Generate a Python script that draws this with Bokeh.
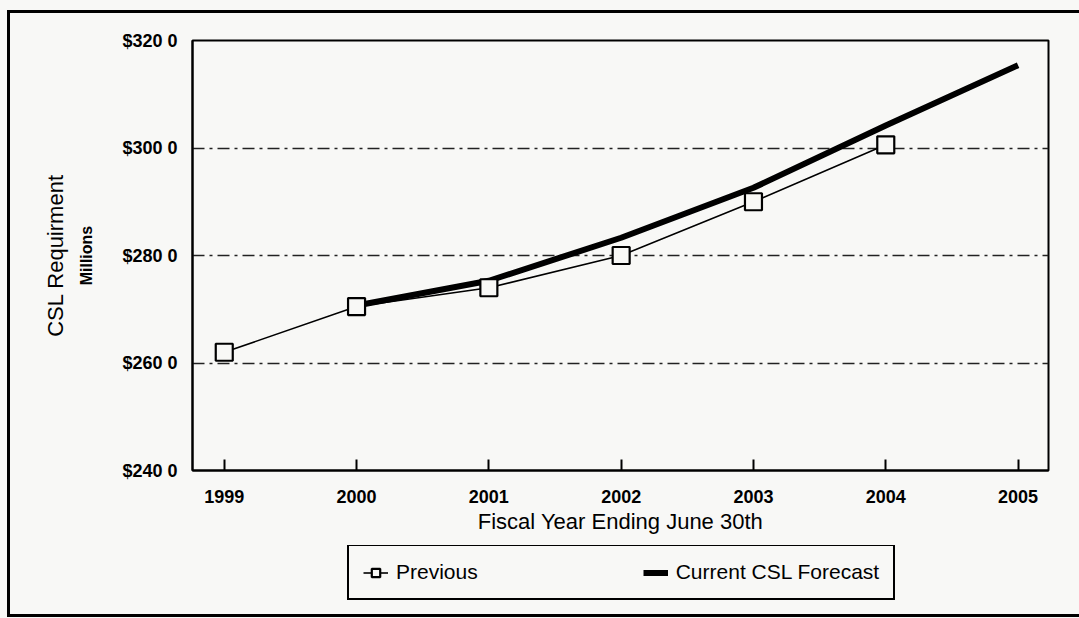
from bokeh.plotting import figure
from bokeh.layouts import column
from bokeh.models import (ColumnDataSource, Legend, LegendItem, FixedTicker,
                          Range1d, LinearAxis, InlineStyleSheet)
from bokeh.embed import file_html
from bokeh.resources import INLINE

# ---- data ----
years = [1999, 2000, 2001, 2002, 2003, 2004, 2005]
year_labels = ["1999", "2000", "2001", "2002", "2003", "2004", "2005"]
previous_years = [1999, 2000, 2001, 2002, 2003, 2004]
previous = [262.0, 270.5, 274.0, 280.0, 290.0, 300.6]
current_years = [2000, 2001, 2002, 2003, 2004, 2005]
current = [270.7, 275.3, 283.3, 292.6, 304.2, 315.4]
y_ticks = [240, 260, 280, 300, 320]
y_tick_labels = ["$240 0", "$260 0", "$280 0", "$300 0", "$320 0"]
series_names = ["Previous", "Current CSL Forecast"]

FONT = "Liberation Sans"
BG = "#f8f8f6"

p = figure(width=1079, height=545, output_backend="svg", toolbar_location=None,
           x_range=Range1d(1998.76, 2005.23), y_range=Range1d(240, 320))
p.min_border_left = 192
p.min_border_right = 31
p.min_border_top = 40
p.min_border_bottom = 75
p.background_fill_color = BG
p.border_fill_color = BG
p.outline_line_color = "black"
p.outline_line_width = 2

# x axis
p.xaxis.ticker = FixedTicker(ticks=years)
p.xaxis.major_label_overrides = {y: l for y, l in zip(years, year_labels)}
p.xaxis.major_tick_in = 11
p.xaxis.major_tick_out = 0
p.xaxis.minor_tick_line_color = None
p.xaxis.major_tick_line_width = 2
p.xaxis.axis_line_width = 2
p.xaxis.major_label_standoff = 19
p.xaxis.major_label_text_font = FONT
p.xaxis.major_label_text_font_size = "18px"
p.xaxis.major_label_text_font_style = "bold"
p.xaxis.major_label_text_color = "black"
p.xaxis.axis_label = "Fiscal Year Ending June 30th"
p.xaxis.axis_label_text_font = FONT
p.xaxis.axis_label_text_font_size = "22px"
p.xaxis.axis_label_text_font_style = "normal"
p.xaxis.axis_label_text_color = "black"
p.xaxis.axis_label_standoff = 3

# y axis (its label is the units line "Millions")
p.yaxis.ticker = FixedTicker(ticks=y_ticks)
p.yaxis.major_label_overrides = {t: l for t, l in zip(y_ticks, y_tick_labels)}
p.yaxis.major_tick_in = 0
p.yaxis.major_tick_out = 0
p.yaxis.minor_tick_line_color = None
p.yaxis.axis_line_width = 2
p.yaxis.major_label_standoff = 15
p.yaxis.major_label_text_font = FONT
p.yaxis.major_label_text_font_size = "18px"
p.yaxis.major_label_text_font_style = "bold"
p.yaxis.major_label_text_color = "black"
p.yaxis.axis_label = "Millions"
p.yaxis.axis_label_text_font = FONT
p.yaxis.axis_label_text_font_size = "16px"
p.yaxis.axis_label_text_font_style = "bold"
p.yaxis.axis_label_text_color = "black"
p.yaxis.axis_label_standoff = 24

# outer, label-only axis carrying the main y title
title_axis = LinearAxis(ticker=FixedTicker(ticks=[]), axis_line_color=None,
                        major_tick_line_color=None, minor_tick_line_color=None,
                        major_label_standoff=0,
                        axis_label="CSL Requirment", axis_label_text_font=FONT,
                        axis_label_text_font_size="22px",
                        axis_label_text_font_style="normal",
                        axis_label_text_color="black", axis_label_standoff=8)
p.add_layout(title_axis, "left")

# grid
p.xgrid.grid_line_color = None
p.ygrid.ticker = FixedTicker(ticks=[260, 280, 300])
p.ygrid.grid_line_color = "#222222"
p.ygrid.grid_line_width = 1.4
p.ygrid.grid_line_dash = "12 5 3 5"

# series
prev_src = ColumnDataSource(dict(x=previous_years, y=previous))
cur_src = ColumnDataSource(dict(x=current_years, y=current))

p.line("x", "y", source=cur_src, line_color="black", line_width=6)
p.line("x", "y", source=prev_src, line_color="black", line_width=1.6)
p.scatter("x", "y", source=prev_src, marker="square", size=17,
          fill_color=BG, line_color="black", line_width=2.2)

# ---- legend strip under the chart ----
# Its renderers share the series sources; its y range lies outside the data,
# so only the legend samples are visible in the strip.
lg = figure(width=1079, height=73, output_backend="svg", toolbar_location=None,
            x_range=Range1d(1998.76, 2005.23), y_range=Range1d(0, 1),
            x_axis_location=None, y_axis_location=None)
lg.min_border = 0
lg.background_fill_color = BG
lg.border_fill_color = BG
lg.outline_line_color = None
lg.xgrid.grid_line_color = None
lg.ygrid.grid_line_color = None
lg_prev_line = lg.line("x", "y", source=prev_src, line_color="black", line_width=1.6)
lg_prev_pts = lg.scatter("x", "y", source=prev_src, marker="square", size=14,
                         fill_color=BG, line_color="black", line_width=2.2)
lg_cur_line = lg.line("x", "y", source=cur_src, line_color="black", line_width=6)

legend = Legend(items=[LegendItem(label=series_names[0], renderers=[lg_prev_line, lg_prev_pts]),
                       LegendItem(label=series_names[1], renderers=[lg_cur_line])],
                orientation="horizontal", location=(155, 18))
legend.label_text_font = FONT
legend.label_text_font_size = "21px"
legend.label_text_color = "black"
legend.border_line_color = "black"
legend.border_line_alpha = 1.0
legend.border_line_width = 2
legend.background_fill_color = BG
legend.background_fill_alpha = 1
legend.padding = 14
legend.margin = 0
legend.spacing = 165
legend.glyph_width = 25
legend.glyph_height = 21
legend.label_height = 21
legend.label_standoff = 8
lg.add_layout(legend, "center")

page = column(p, lg, spacing=0)
page.stylesheets = [InlineStyleSheet(css="""
:host { background: #f8f8f6; }
:host::after {
  content: ""; position: absolute; left: 7px; top: 10px;
  width: 1080px; height: 607px; box-sizing: border-box;
  border: 3px solid black; pointer-events: none; z-index: 10;
}
""")]

open("out.html", "w").write(file_html(page, INLINE))
